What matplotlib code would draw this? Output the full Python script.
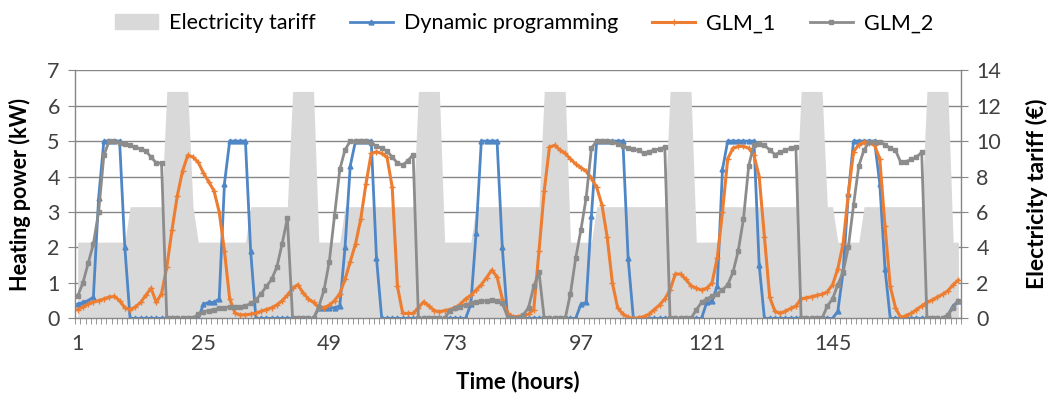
"""Heating power schedules vs electricity tariff over one week (hourly)."""
import matplotlib

matplotlib.use("Agg")
import matplotlib.pyplot as plt
from matplotlib.lines import Line2D
from matplotlib.patches import Patch
import numpy as np

hours = np.arange(1, 170)
hour_labels = [1, 25, 49, 73, 97, 121, 145]

# electricity tariff (EUR), secondary axis, one row per day
tariff = [
    4.3, 4.3, 4.3, 4.3, 4.3, 4.3, 4.3, 4.3, 4.3, 4.3, 6.3, 6.3, 6.3, 6.3, 6.3, 6.3, 6.3, 12.8, 12.8, 12.8, 12.8, 12.8, 6.3, 4.3,
    4.3, 4.3, 4.3, 4.3, 4.3, 4.3, 4.3, 4.3, 4.3, 6.3, 6.3, 6.3, 6.3, 6.3, 6.3, 6.3, 6.3, 12.8, 12.8, 12.8, 12.8, 12.8, 4.3, 4.3,
    4.3, 4.3, 4.3, 6.3, 6.3, 6.3, 6.3, 6.3, 6.3, 6.3, 6.3, 6.3, 6.3, 6.3, 6.3, 6.3, 6.3, 12.8, 12.8, 12.8, 12.8, 12.8, 4.3, 4.3,
    4.3, 4.3, 4.3, 4.3, 6.3, 6.3, 6.3, 6.3, 6.3, 6.3, 6.3, 6.3, 6.3, 6.3, 6.3, 6.3, 6.3, 12.8, 12.8, 12.8, 12.8, 12.8, 4.3, 4.3,
    4.3, 4.3, 4.3, 6.3, 6.3, 6.3, 6.3, 6.3, 6.3, 6.3, 6.3, 6.3, 6.3, 6.3, 6.3, 6.3, 6.3, 12.8, 12.8, 12.8, 12.8, 12.8, 4.3, 4.3,
    4.3, 4.3, 4.3, 6.3, 6.3, 6.3, 6.3, 6.3, 6.3, 6.3, 6.3, 6.3, 6.3, 6.3, 6.3, 6.3, 6.3, 6.3, 12.8, 12.8, 12.8, 12.8, 12.8, 6.3,
    6.3, 4.3, 4.3, 4.3, 4.3, 4.3, 6.3, 6.3, 6.3, 6.3, 6.3, 6.3, 6.3, 6.3, 6.3, 6.3, 6.3, 6.3, 12.8, 12.8, 12.8, 12.8, 12.8, 4.3,
    4.3,
]

# heating power (kW), primary axis
dyn_prog = [
    0.4, 0.45, 0.5, 0.6, 3.4, 5.0, 5.0, 5.0, 5.0, 2.0, 0, 0, 0, 0, 0, 0, 0, 0, 0, 0, 0, 0, 0, 0,
    0.4, 0.45, 0.45, 0.55, 3.8, 5.0, 5.0, 5.0, 5.0, 1.9, 0, 0, 0, 0, 0, 0, 0, 0, 0, 0, 0, 0,
    0.3, 0.3, 0.3, 0.3, 0.35, 2.0, 4.3, 5.0, 5.0, 5.0, 5.0, 1.7, 0, 0, 0, 0, 0, 0, 0, 0, 0, 0, 0, 0,
    0, 0, 0, 0, 0, 0.4, 2.4, 5.0, 5.0, 5.0, 5.0, 2.0, 0, 0, 0, 0, 0, 0, 0, 0, 0, 0, 0, 0, 0, 0,
    0.4, 0.45, 2.9, 5.0, 5.0, 5.0, 5.0, 5.0, 5.0, 1.7, 0, 0, 0, 0, 0, 0, 0, 0, 0, 0, 0, 0, 0, 0,
    0.45, 0.5, 0.9, 4.2, 5.0, 5.0, 5.0, 5.0, 5.0, 5.0, 1.5, 0, 0, 0, 0, 0, 0, 0, 0, 0, 0, 0, 0, 0, 0,
    0.2, 1.3, 3.5, 5.0, 5.0, 5.0, 5.0, 5.0, 3.8, 1.4, 0, 0, 0, 0, 0, 0, 0, 0, 0, 0, 0, 0.1, 0.35, 0.5,
]
glm_1 = [
    0.25, 0.32, 0.4, 0.46, 0.5, 0.55, 0.6, 0.62, 0.5, 0.3, 0.25, 0.32, 0.45, 0.65, 0.85, 0.45, 0.7, 1.45, 2.5, 3.45, 4.15, 4.6, 4.55, 4.4,
    4.1, 3.85, 3.6, 3.0, 1.9, 0.55, 0.15, 0.1, 0.1, 0.12, 0.15, 0.2, 0.25, 0.3, 0.38, 0.5, 0.65, 0.85, 0.95, 0.72, 0.55, 0.45, 0.3, 0.3,
    0.37, 0.5, 0.7, 1.1, 1.6, 2.1, 2.8, 3.8, 4.65, 4.7, 4.65, 4.55, 3.7, 0.9, 0.14, 0.14, 0.14, 0.3, 0.47, 0.35, 0.22, 0.19, 0.22, 0.25,
    0.3, 0.4, 0.55, 0.65, 0.8, 0.95, 1.15, 1.36, 1.17, 0.55, 0.14, 0.05, 0.05, 0.08, 0.12, 0.25, 1.9, 3.6, 4.83, 4.88, 4.75, 4.65, 4.5, 4.35,
    4.25, 4.15, 3.95, 3.7, 3.2, 2.3, 1.0, 0.3, 0.12, 0.03, 0.0, 0.02, 0.05, 0.12, 0.25, 0.38, 0.55, 0.8, 1.25, 1.25, 1.1, 0.92, 0.85, 0.8,
    0.85, 1.0, 1.7, 3.0, 4.5, 4.8, 4.85, 4.85, 4.8, 4.6, 4.0, 2.3, 0.6, 0.2, 0.14, 0.2, 0.28, 0.35, 0.55, 0.58, 0.61, 0.65, 0.68, 0.75,
    0.95, 1.4, 2.1, 3.5, 4.7, 4.9, 4.97, 4.95, 4.88, 4.5, 2.6, 0.9, 0.3, 0.02, 0.08, 0.14, 0.25, 0.35, 0.45, 0.52, 0.6, 0.68, 0.78, 0.95,
    1.08,
]
glm_2 = [
    0.63, 1.0, 1.55, 2.1, 3.0, 4.6, 5.0, 5.0, 4.95, 4.92, 4.88, 4.82, 4.78, 4.72, 4.55, 4.38, 4.38, 0, 0, 0, 0, 0, 0, 0.12,
    0.18, 0.22, 0.25, 0.28, 0.3, 0.33, 0.33, 0.33, 0.35, 0.42, 0.52, 0.7, 0.9, 1.1, 1.45, 2.1, 2.82, 0, 0, 0, 0, 0, 0.33, 0.8,
    1.6, 2.9, 4.2, 4.75, 5.0, 5.0, 5.0, 5.0, 4.95, 4.85, 4.8, 4.72, 4.55, 4.38, 4.32, 4.45, 4.62, 0, 0, 0, 0, 0, 0, 0.22,
    0.28, 0.33, 0.38, 0.42, 0.45, 0.48, 0.5, 0.52, 0.5, 0.42, 0.05, 0, 0, 0.1, 0.3, 0.9, 1.3, 0, 0, 0, 0, 0, 0.7, 1.7,
    2.5, 3.4, 4.8, 5.0, 5.0, 5.0, 4.97, 4.93, 4.87, 4.8, 4.77, 4.74, 4.65, 4.7, 4.74, 4.78, 4.82, 0, 0, 0, 0, 0, 0.24, 0.45,
    0.55, 0.62, 0.7, 0.8, 0.95, 1.3, 1.9, 2.8, 4.3, 4.9, 4.93, 4.88, 4.75, 4.62, 4.68, 4.74, 4.8, 4.83, 0, 0, 0, 0, 0, 0.35,
    0.55, 0.95, 1.3, 2.0, 3.2, 4.3, 4.75, 4.98, 4.98, 4.97, 4.9, 4.8, 4.74, 4.4, 4.42, 4.48, 4.55, 4.68, 0, 0, 0, 0, 0.1, 0.3,
    0.5,
]

TARIFF_GREY = "#D9D9D9"
BLUE = "#4F86C6"
ORANGE = "#ED7D31"
GREY = "#8C8C8C"
AXIS_GREY = "#868686"
TEXT = "#404040"

plt.rcParams["font.family"] = ["Lato", "DejaVu Sans"]

fig = plt.figure(figsize=(10.48, 4.03), dpi=100)
ax = fig.add_axes([0.0716, 0.21, 0.8454, 0.616])
ax2 = ax.twinx()
ax.set_zorder(ax2.get_zorder() + 1)
ax.patch.set_visible(False)

# tariff area with gridlines behind it
ax2.set_axisbelow(True)
ax2.yaxis.grid(True, color=AXIS_GREY, lw=1)
ax2.fill_between(hours, tariff, color=TARIFF_GREY, lw=0)
ax2.set_ylim(0, 14)
ax2.set_yticks(range(0, 15, 2))

ax.plot(hours, dyn_prog, color=BLUE, lw=2, marker="^", ms=3.5)
ax.plot(hours, glm_1, color=ORANGE, lw=2.2, marker="+", ms=4, mew=1)
ax.plot(hours, glm_2, color=GREY, lw=2, marker="s", ms=2.8)
ax.set_ylim(0, 7)
ax.set_yticks(range(8))
ax.set_xlim(0.5, 169.5)
ax.set_xticks(hour_labels)
ax.set_xticks(np.arange(0.5, 170, 1), minor=True)

for a in (ax, ax2):
    for s in a.spines.values():
        s.set_visible(False)
for side, a in (("left", ax), ("bottom", ax), ("right", ax2)):
    a.spines[side].set_visible(True)
    a.spines[side].set_color(AXIS_GREY)
    a.spines[side].set_linewidth(1)

ax.tick_params(axis="x", which="major", length=0, pad=11, labelsize=15.5, labelcolor=TEXT)
ax.tick_params(axis="x", which="minor", length=4, color=AXIS_GREY)
ax.tick_params(axis="y", length=5, color=AXIS_GREY, labelsize=15.5, labelcolor=TEXT, pad=6)
ax2.tick_params(axis="y", length=5, color=AXIS_GREY, labelsize=15.5, labelcolor=TEXT, pad=6)

ax.set_xlabel("Time (hours)", fontsize=16, fontweight="bold", labelpad=12)
ax.set_ylabel("Heating power (kW)", fontsize=15.5, fontweight="bold")
ax.yaxis.set_label_coords(-0.05, 0.5)
ax2.set_ylabel("Electricity tariff (\u20ac)", fontsize=16.5, fontweight="bold")
ax2.yaxis.set_label_coords(1.073, 0.5)

handles = [
    Patch(color=TARIFF_GREY, label="Electricity tariff"),
    Line2D([], [], color=BLUE, lw=2, marker="^", ms=3.5, label="Dynamic programming"),
    Line2D([], [], color=ORANGE, lw=2.2, marker="+", ms=4, label="GLM_1"),
    Line2D([], [], color=GREY, lw=2, marker="s", ms=2.8, label="GLM_2"),
]
fig.legend(handles=handles, loc="upper center", bbox_to_anchor=(0.5, 1.015), ncol=4,
           frameon=False, fontsize=15.5, handlelength=2.0, columnspacing=1.6, handletextpad=0.5)

fig.savefig("out.png", dpi=100)
